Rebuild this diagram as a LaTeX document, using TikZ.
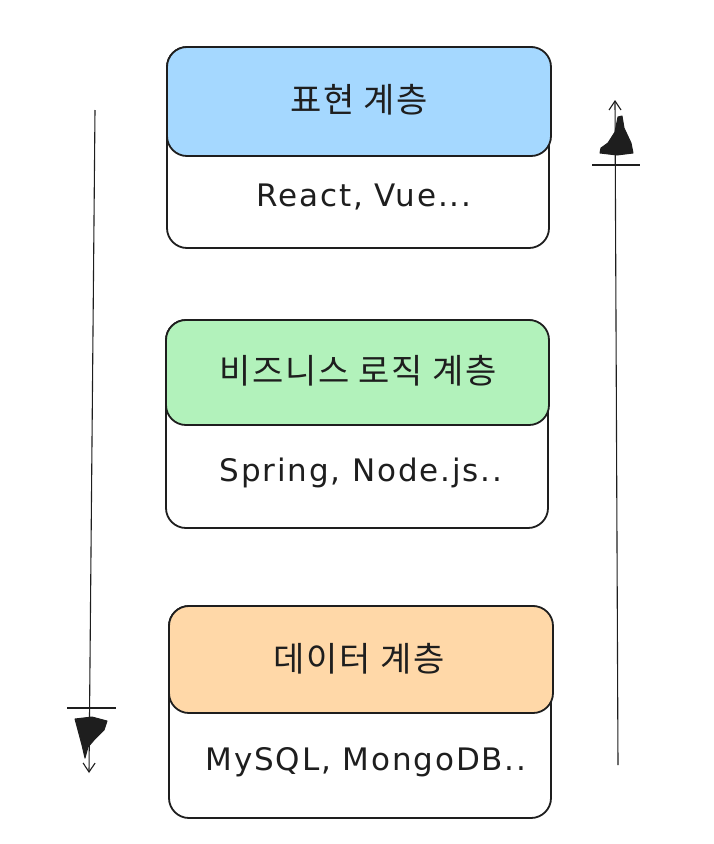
\documentclass[tikz,border=0pt]{standalone}
\usepackage{fontspec}
\setmainfont{Liberation Sans}
\newfontfamily\kr{Noto Sans CJK KR}[LetterSpace=5]
\newfontfamily\hand{DejaVu Sans}[LetterSpace=6]
\usetikzlibrary{arrows.meta}
\definecolor{ink}{HTML}{1E1E1E}
\definecolor{cblue}{HTML}{A5D8FF}
\definecolor{cgreen}{HTML}{B2F2BB}
\definecolor{corange}{HTML}{FFD8A8}
\tikzset{
  body/.style={draw=ink, line width=1.8pt, rounded corners=20pt, fill=white},
  head/.style={draw=ink, line width=1.8pt, rounded corners=20pt},
  htext/.style={text=ink, font=\kr\fontsize{34}{38}\selectfont},
  btext/.style={text=ink, font=\hand\fontsize{31}{34}\selectfont},
  flow/.style={draw=ink, line width=1.1pt, -{Straight Barb[length=9pt,width=12pt]}},
  tick/.style={draw=ink, line width=1.1pt},
  blob/.style={fill=ink, draw=ink, line width=1pt, line join=round}
}
\begin{document}
\begin{tikzpicture}[x=1pt,y=-1pt]
\useasboundingbox (0,0) rectangle (713,844);
% layer 1
\draw[body] (167,47) rectangle (549,248);
\draw[head, fill=cblue] (167,47) rectangle (551,156);
\node[htext] (h1) at (359,100) {표현 계층};
\node[btext] (b1) at (364,197) {React, Vue...};
% layer 2
\draw[body] (166,320) rectangle (548,528);
\draw[head, fill=cgreen] (166,320) rectangle (549,425);
\node[htext] (h2) at (358,371) {비즈니스 로직 계층};
\node[btext] (b2) at (361,473) {Spring, Node.js..};
% layer 3
\draw[body] (169,606) rectangle (551,818);
\draw[head, fill=corange] (169,606) rectangle (553,713);
\node[htext] (h3) at (359,659) {데이터 계층};
\node[btext] (b3) at (366,762) {MySQL, MongoDB..};
% left arrow (down)
\coordinate (lt) at (95,110);
\coordinate (lb) at (89,773);
\draw[flow] (lt) -- (lb);
\coordinate (lc1) at (67,708);
\coordinate (lc2) at (116,708);
\draw[tick] (lc1) -- (lc2);
\fill[blob] (75,719) -- (92,717) -- (107,721) -- (104,730) -- (94,740) -- (88,747) -- (85,758) -- (82,745) -- (78,730) -- cycle;
% right arrow (up)
\coordinate (rb) at (618,765);
\coordinate (rt) at (615,100);
\draw[flow] (rb) -- (rt);
\coordinate (rc1) at (592,165);
\coordinate (rc2) at (640,165);
\draw[tick] (rc1) -- (rc2);
\fill[blob] (600,153) -- (617,155) -- (633,153) -- (631,143) -- (624,128) -- (622,116) -- (618,117) -- (615,132) -- (608,143) -- (601,148) -- cycle;
\end{tikzpicture}
\end{document}
